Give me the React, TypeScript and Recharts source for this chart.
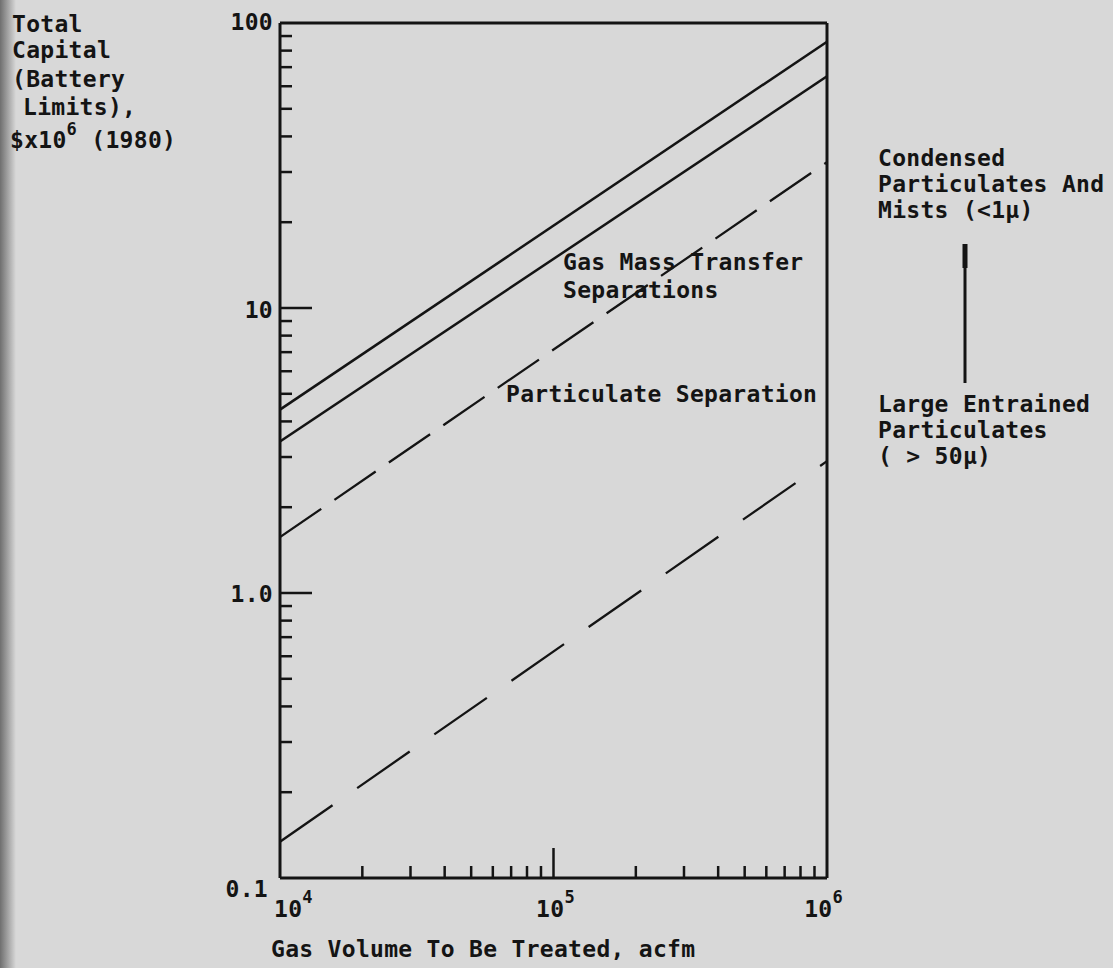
import { Line, LineChart, ReferenceLine, XAxis, YAxis } from "recharts";

// gas volume treated, acfm (ends of each straight line on the log-log chart)
const volume = [10000, 1000000];
const gasMassUpper = [4.4, 86];
const gasMassLower = [3.4, 65];
const particulateUpper = [1.57, 32.5];
const particulateLower = [0.134, 2.9];

const xMajor = [10000, 100000, 1000000];
const xMinor = [
  20000, 30000, 40000, 50000, 60000, 70000, 80000, 90000,
  200000, 300000, 400000, 500000, 600000, 700000, 800000, 900000,
];
const xExponents = ["4", "5", "6"];

const yMajor = [0.1, 1, 10, 100];
const yMinor = [
  0.2, 0.3, 0.4, 0.5, 0.6, 0.7, 0.8, 0.9,
  2, 3, 4, 5, 6, 7, 8, 9,
  20, 30, 40, 50, 60, 70, 80, 90,
];
const yLabels = ["0.1", "1.0", "10", "100"];

const data = volume.map((v, i) => ({
  volume: v,
  gasMassUpper: gasMassUpper[i],
  gasMassLower: gasMassLower[i],
  particulateUpper: particulateUpper[i],
  particulateLower: particulateLower[i],
}));

const INK = "#141414";
const FONT = "'DejaVu Sans Mono', 'Liberation Mono', monospace";
const textStyle = { fontFamily: FONT, fontWeight: 700, fontSize: 23, letterSpacing: 0.3, fill: INK };

function YTick({ x, y, payload }: any) {
  const v = payload.value;
  const i = yMajor.indexOf(v);
  const edge = v === 0.1 || v === 100;
  const len = edge ? 0 : i >= 0 ? 32 : 12;
  const dy = v === 0.1 ? 19 : v === 100 ? 7 : v === 1 ? 9 : 10;
  return (
    <g>
      {len > 0 && <line x1={x} x2={x + len} y1={y} y2={y} stroke={INK} strokeWidth={2.5} />}
      {i >= 0 && (
        <text x={x - (v === 0.1 ? 12 : 7)} y={y + dy} textAnchor="end" style={textStyle}>
          {yLabels[i]}
        </text>
      )}
    </g>
  );
}

function XTick({ x, y, payload }: any) {
  const v = payload.value;
  const i = xMajor.indexOf(v);
  const len = i === 1 ? 30 : i >= 0 ? 0 : 12;
  const anchor = i === 0 ? "start" : i === 1 ? "middle" : "end";
  const lx = i === 0 ? x - 6 : i === 1 ? x + 2 : x + 16;
  return (
    <g>
      {len > 0 && <line x1={x} x2={x} y1={y} y2={y - len} stroke={INK} strokeWidth={2.5} />}
      {i >= 0 && (
        <text x={lx} y={y + 39} textAnchor={anchor} style={textStyle}>
          10
          <tspan dy={-14} fontSize={17}>
            {xExponents[i]}
          </tspan>
        </text>
      )}
    </g>
  );
}

export default function App() {
  return (
    <div
      style={{
        position: "absolute",
        left: 0,
        top: 0,
        width: 1113,
        height: 968,
        background: "#d8d8d8",
        overflow: "hidden",
      }}
    >
      <div
        style={{
          position: "absolute",
          left: 0,
          top: 0,
          width: 16,
          height: 968,
          background: "linear-gradient(to right, #6f6f6f, #d8d8d8)",
        }}
      />
      <LineChart width={1113} height={968} data={data} margin={{ top: 23, right: 286, left: 200, bottom: 60 }}>
        <XAxis
          dataKey="volume"
          type="number"
          scale="log"
          domain={[10000, 1000000]}
          allowDataOverflow
          ticks={[...xMajor, ...xMinor]}
          interval={0}
          tickSize={0}
          tickMargin={0}
          tickLine={false}
          axisLine={{ stroke: INK, strokeWidth: 3 }}
          tick={(p: any) => <XTick {...p} />}
          height={30}
        />
        <YAxis
          type="number"
          scale="log"
          domain={[0.1, 100]}
          allowDataOverflow
          ticks={[...yMajor, ...yMinor]}
          interval={0}
          tickSize={0}
          tickMargin={0}
          tickLine={false}
          axisLine={{ stroke: INK, strokeWidth: 3 }}
          tick={(p: any) => <YTick {...p} />}
          width={80}
        />
        <ReferenceLine y={100} stroke={INK} strokeWidth={3} />
        <ReferenceLine x={1000000} stroke={INK} strokeWidth={3} />
        <Line type="linear" dataKey="gasMassUpper" stroke={INK} strokeWidth={2.5} dot={false} isAnimationActive={false} />
        <Line type="linear" dataKey="gasMassLower" stroke={INK} strokeWidth={2.5} dot={false} isAnimationActive={false} />
        <Line
          type="linear"
          dataKey="particulateUpper"
          stroke={INK}
          strokeWidth={2.3}
          strokeDasharray="50 16"
          dot={false}
          isAnimationActive={false}
        />
        <Line
          type="linear"
          dataKey="particulateLower"
          stroke={INK}
          strokeWidth={2.3}
          strokeDasharray="64 30"
          dot={false}
          isAnimationActive={false}
        />
      </LineChart>
      <svg
        width={1113}
        height={968}
        style={{ position: "absolute", left: 0, top: 0, pointerEvents: "none" }}
      >
        <g>
          <text x={12} y={32} style={textStyle}>Total</text>
          <text x={12} y={58} style={textStyle}>Capital</text>
          <text x={12} y={87} style={textStyle}>(Battery</text>
          <text x={23} y={115} style={textStyle}>Limits),</text>
          <text x={10} y={148} style={textStyle}>
            $x10<tspan dy={-13} fontSize={17}>6</tspan>
            <tspan dy={13}> (1980)</tspan>
          </text>

          <text x={563} y={270} style={textStyle}>Gas Mass Transfer</text>
          <text x={563} y={298} style={textStyle}>Separations</text>
          <text x={506} y={402} style={textStyle}>Particulate Separation</text>

          <text x={878} y={166} style={textStyle}>Condensed</text>
          <text x={878} y={192} style={textStyle}>Particulates And</text>
          <text x={878} y={218} style={textStyle}>Mists (&lt;1μ)</text>
          <text x={878} y={412} style={textStyle}>Large Entrained</text>
          <text x={878} y={438} style={textStyle}>Particulates</text>
          <text x={878} y={464} style={textStyle}>( &gt; 50μ)</text>

          <line x1={965} x2={965} y1={246} y2={383} stroke={INK} strokeWidth={3} />
          <line x1={965} x2={965} y1={244} y2={268} stroke={INK} strokeWidth={5} />

          <text x={271} y={957} style={textStyle}>Gas Volume To Be Treated, acfm</text>
        </g>
      </svg>
    </div>
  );
}
